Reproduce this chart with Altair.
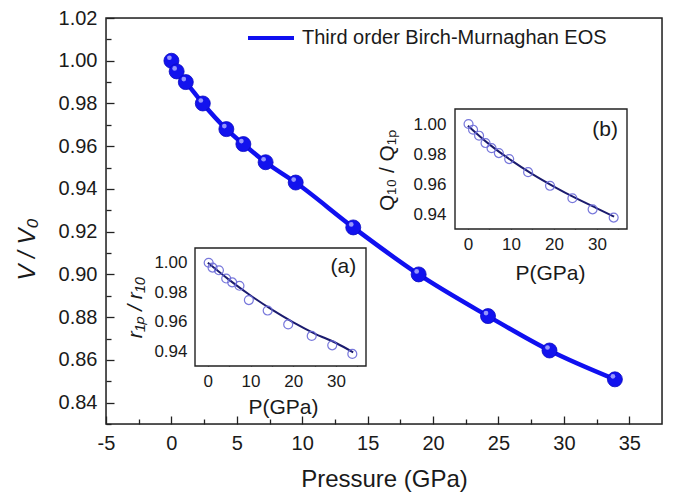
import altair as alt
import pandas as pd

# ---------------- data ----------------
SERIES = "Third order Birch-Murnaghan EOS"
P_main = [0.0, 0.4, 1.1, 2.4, 4.2, 5.5, 7.2, 9.5, 13.9, 18.9, 24.2, 28.9, 33.9]
V_main = [1.000, 0.995, 0.990, 0.980, 0.968, 0.961, 0.9525, 0.943, 0.922, 0.900, 0.8805, 0.8644, 0.8509]

# inset (a): r1P / r10
P_a = [0.2, 1.1, 2.6, 4.3, 5.7, 7.4, 9.6, 14.0, 18.8, 24.3, 29.1, 33.8]
R_a = [1.000, 0.9967, 0.9949, 0.9893, 0.9867, 0.9844, 0.9747, 0.9676, 0.9582, 0.9504, 0.9440, 0.9382]
P_a_fit = [0, 5, 10, 15, 20, 25, 30, 34]
R_a_fit = [1.000, 0.9884, 0.9778, 0.9682, 0.9596, 0.9520, 0.9456, 0.9393]

# inset (b): Q10 / Q1P
P_b = [0.15, 1.2, 2.6, 4.1, 5.5, 7.2, 9.6, 14.0, 19.1, 24.3, 29.0, 33.9]
Q_b = [1.000, 0.9962, 0.9922, 0.9873, 0.9839, 0.9806, 0.9766, 0.9679, 0.9588, 0.9505, 0.9431, 0.9376]
P_b_fit = [0, 5, 10, 15, 20, 25, 30, 34]
Q_b_fit = [0.9989, 0.9864, 0.9759, 0.9666, 0.9583, 0.9507, 0.9438, 0.9382]

main_x_ticks = [-5, 0, 5, 10, 15, 20, 25, 30, 35]
main_x_minor = [-2.5, 2.5, 7.5, 12.5, 17.5, 22.5, 27.5, 32.5]
main_y_ticks = [0.84, 0.86, 0.88, 0.90, 0.92, 0.94, 0.96, 0.98, 1.00, 1.02]
main_y_minor = [0.83, 0.85, 0.87, 0.89, 0.91, 0.93, 0.95, 0.97, 0.99, 1.01]
inset_x_ticks = [0, 5, 10, 15, 20, 25, 30, 35]
inset_y_ticks = [0.94, 0.95, 0.96, 0.97, 0.98, 0.99, 1.00]

# ---------------- styling ----------------
FONT = "Liberation Sans"
TXT = "#1a1a1a"
FRAME = "#222222"
BLUE = "#1010f0"
W, H = 556, 406

main_df = pd.DataFrame({"P": P_main, "V": V_main, "series": [SERIES] * len(P_main)})
a_pts = pd.DataFrame({"P": P_a, "R": R_a})
a_fit = pd.DataFrame({"P": P_a_fit, "R": R_a_fit})
b_pts = pd.DataFrame({"P": P_b, "Q": Q_b})
b_fit = pd.DataFrame({"P": P_b_fit, "Q": Q_b_fit})

xs_main = alt.Scale(domain=[-5, 37.5], nice=False, zero=False)
ys_main = alt.Scale(domain=[0.83, 1.02], nice=False, zero=False)

common_axis = dict(domain=False, grid=False, labelFont=FONT, labelColor=TXT,
                   labelOverlap=False, labelFlush=False, tickColor=FRAME, tickWidth=1.3,
                   titleFont=FONT, titleColor=TXT, titleFontWeight="normal")

HYPHEN_X = "datum.value < 0 ? '-' + format(-datum.value, 'd') : format(datum.value, 'd')"

x_axis_main = alt.Axis(orient="bottom", values=main_x_ticks, tickSize=8, offset=-8,
                       labelPadding=9, labelFontSize=20, labelExpr=HYPHEN_X,
                       title="Pressure (GPa)",
                       titleFontSize=24, titleX=278, titleY=51, titleBaseline="top",
                       titleAlign="center", **common_axis)
y_axis_main = alt.Axis(orient="left", values=main_y_ticks, tickSize=8, offset=-8,
                       labelPadding=9, labelFontSize=20, format=".2f", title="V / V₀",
                       titleFontSize=24, titleFontStyle="italic", titleAngle=270,
                       titleX=-87, titleY=231, titleBaseline="middle", titleAlign="center",
                       **common_axis)

main_frame = alt.Chart(pd.DataFrame({"x0": [-5], "x1": [37.5], "y0": [0.83], "y1": [1.02]})
                       ).mark_rect(fillOpacity=0, stroke=FRAME, strokeWidth=1.5).encode(
    x=alt.X("x0:Q", scale=xs_main, axis=x_axis_main), x2="x1:Q",
    y=alt.Y("y0:Q", scale=ys_main, axis=y_axis_main), y2="y1:Q")

line = alt.Chart(main_df).mark_line(interpolate="monotone", strokeWidth=4.5).encode(
    x=alt.X("P:Q", scale=xs_main),
    y=alt.Y("V:Q", scale=ys_main),
    color=alt.Color("series:N", scale=alt.Scale(range=[BLUE]),
                    legend=alt.Legend(orient="none", legendX=140, legendY=-5, title=None,
                                      symbolType="stroke", symbolSize=2116,
                                      symbolStrokeWidth=4, symbolStrokeColor=BLUE,
                                      labelFont=FONT, labelFontSize=20, labelColor=TXT,
                                      labelOffset=6, padding=0, labelLimit=600)),
)
points = alt.Chart(main_df).mark_circle(size=225, color="#1212ee", opacity=1,
                                        stroke="#0a0ac0", strokeWidth=0.8).encode(
    x="P:Q", y="V:Q")
gleam = alt.Chart(main_df).mark_circle(size=22, color="#b8b8ff", opacity=0.8).encode(
    x="P:Q", y="V:Q", xOffset=alt.value(-2), yOffset=alt.value(-3))
main = alt.layer(main_frame, line, points, gleam)

# minor ticks of main axes
minor = alt.Chart(pd.DataFrame({"P": [0.0], "V": [1.0]})).mark_point(opacity=0).encode(
    x=alt.X("P:Q", scale=xs_main,
            axis=alt.Axis(orient="bottom", values=main_x_minor, tickSize=5, offset=-5,
                          labels=False, domain=False, grid=False, tickColor=FRAME,
                          tickWidth=1.3), title=None),
    y=alt.Y("V:Q", scale=ys_main,
            axis=alt.Axis(orient="left", values=main_y_minor, tickSize=5, offset=-5,
                          labels=False, domain=False, grid=False, tickColor=FRAME,
                          tickWidth=1.3), title=None),
)

LAB_X = "datum.value % 10 == 0 ? datum.label : ''"
LAB_Y = "round(datum.value * 100) % 2 == 0 ? format(datum.value, '.2f') : ''"


def inset(pts, fit, yfield, xr, yr, ytitle, tag, tag_xy, ylabpad, xtitle_xy, ytitle_xy,
          ytitle_style):
    xs = alt.Scale(domain=[-3, 37], range=xr, nice=False, zero=False)
    ys = alt.Scale(domain=[0.93, 1.01], range=yr, nice=False, zero=False)
    xoff = -(H - yr[0]) - 5
    yoff = -xr[0] - 5
    xaxis = alt.Axis(orient="bottom", values=inset_x_ticks, labelExpr=LAB_X, tickSize=5,
                     offset=xoff, labelPadding=7, labelFontSize=17, title="P(GPa)",
                     titleFontSize=21, titleX=xtitle_xy[0], titleY=xtitle_xy[1],
                     titleBaseline="middle", titleAlign="center", **common_axis)
    yaxis = alt.Axis(orient="left", values=inset_y_ticks, labelExpr=LAB_Y, tickSize=5,
                     offset=yoff, labelPadding=ylabpad, labelFontSize=17, title=ytitle,
                     titleFontSize=21, titleFontStyle=ytitle_style, titleAngle=270,
                     titleX=ytitle_xy[0], titleY=ytitle_xy[1], titleBaseline="middle",
                     titleAlign="center", **common_axis)
    frame = alt.Chart(pd.DataFrame({"x0": [-3], "x1": [37], "y0": [0.93], "y1": [1.01]})
                      ).mark_rect(fill="white", stroke=FRAME, strokeWidth=1.4).encode(
        x=alt.X("x0:Q", scale=xs, axis=xaxis), x2="x1:Q",
        y=alt.Y("y0:Q", scale=ys, axis=yaxis), y2="y1:Q")
    fline = alt.Chart(fit).mark_line(color="#1b1b6e", strokeWidth=2,
                                     interpolate="monotone").encode(
        x="P:Q", y=f"{yfield}:Q")
    opts = alt.Chart(pts).mark_point(shape="circle", filled=False, size=80,
                                     color="#6a6ad8", strokeWidth=1.2, opacity=0.9).encode(
        x="P:Q", y=f"{yfield}:Q")
    label = alt.Chart(pd.DataFrame({"x": [tag_xy[0]], "y": [tag_xy[1]], "t": [tag]})
                      ).mark_text(font=FONT, fontSize=21, color=TXT).encode(
        x="x:Q", y="y:Q", text="t:N")
    return alt.layer(frame, fline, opts, label)


inset_a = inset(a_pts, a_fit, "R", [89, 260], [348, 230], "r₁ₚ / r₁₀", "(a)",
                (31.7, 0.997), 8, (177, 46), (-65, 289), "italic")
inset_b = inset(b_pts, b_fit, "Q", [349, 521], [211, 91], "Q₁₀ / Q₁ₚ", "(b)",
                (31.9, 0.996), 9, (444, 49), (-73, 152), "normal")

chart = alt.layer(main, minor, inset_a, inset_b).resolve_scale(
    x="independent", y="independent"
).properties(
    width=W, height=H, autosize=alt.AutoSizeParams(type="none"),
    padding={"left": 98, "top": 10, "right": 3, "bottom": 72},
).configure_view(stroke=FRAME, strokeWidth=1.5).configure(background="white")

chart.save("out.html", embed_options={"renderer": "svg", "actions": False})
